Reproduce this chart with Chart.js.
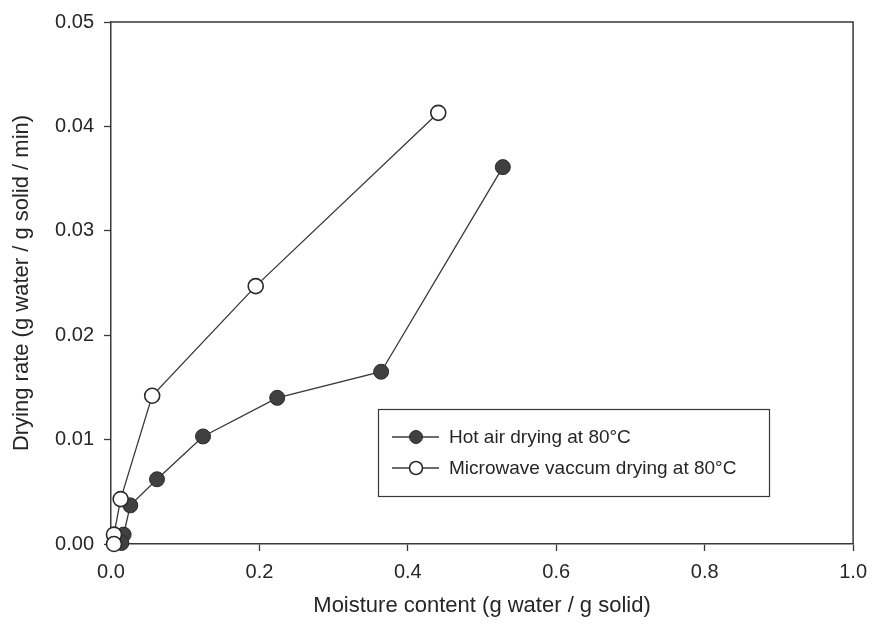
<!DOCTYPE html>
<html>
<head>
<meta charset="utf-8">
<script src="https://cdn.jsdelivr.net/npm/chart.js@4.4.1/dist/chart.umd.min.js"></script>
<style>
  html, body { margin: 0; padding: 0; background: #ffffff; }
  #wrap { width: 876px; height: 633px; position: relative; }
</style>
</head>
<body>
<div id="wrap"><canvas id="c" width="876" height="633"></canvas></div>
<script>
// ---- data ----
const hotAirX = [0.528, 0.364, 0.224, 0.124, 0.062, 0.026, 0.017, 0.014];
const hotAirY = [0.0361, 0.0165, 0.0140, 0.0103, 0.0062, 0.0037, 0.0009, 0.0001];
const microX  = [0.441, 0.195, 0.0555, 0.013, 0.004, 0.004];
const microY  = [0.0413, 0.0247, 0.0142, 0.0043, 0.0009, 0.0000];
const seriesLabels = ["Hot air drying at 80°C", "Microwave vaccum drying at 80°C"];
const xTickLabels = ["0.0", "0.2", "0.4", "0.6", "0.8", "1.0"];
const yTickLabels = ["0.00", "0.01", "0.02", "0.03", "0.04", "0.05"];
const xTitle = "Moisture content (g water / g solid)";
const yTitle = "Drying rate (g water / g solid / min)";

const FONT = "'Liberation Sans', Arial, sans-serif";
const TEXT = "#262626";
const LINE = "#383838";

function toPts(xs, ys) { return xs.map((x, i) => ({ x: x, y: ys[i] })); }

const framePlugin = {
  id: 'frame',
  afterDatasetsDraw(chart) {
    const { ctx, chartArea: a } = chart;
    ctx.save();
    ctx.strokeStyle = LINE;
    ctx.lineWidth = 1.5;
    ctx.beginPath();
    ctx.moveTo(a.left, a.top);
    ctx.lineTo(a.right, a.top);
    ctx.lineTo(a.right, a.bottom);
    ctx.stroke();
    ctx.restore();
  }
};

const legendPlugin = {
  id: 'boxLegend',
  afterDraw(chart) {
    const { ctx, chartArea: a } = chart;
    const left = a.left + 267, top = a.top + 387, w = 391, h = 87;
    ctx.save();
    ctx.strokeStyle = LINE;
    ctx.lineWidth = 1.2;
    ctx.strokeRect(left + 0.5, top + 0.5, w, h);
    const rows = [chart.data.datasets[0], chart.data.datasets[1]];
    rows.forEach((ds, i) => {
      const cy = top + 28 + i * 31;
      ctx.strokeStyle = ds.borderColor;
      ctx.lineWidth = ds.borderWidth;
      ctx.beginPath();
      ctx.moveTo(left + 14, cy);
      ctx.lineTo(left + 61, cy);
      ctx.stroke();
      ctx.beginPath();
      ctx.arc(left + 38, cy, 6.5, 0, Math.PI * 2);
      ctx.fillStyle = ds.pointBackgroundColor;
      ctx.fill();
      ctx.lineWidth = ds.pointBorderWidth;
      ctx.strokeStyle = ds.pointBorderColor;
      ctx.stroke();
      ctx.fillStyle = TEXT;
      ctx.font = "19px " + FONT;
      ctx.textBaseline = 'middle';
      ctx.textAlign = 'left';
      ctx.fillText(ds.label, left + 71, cy + 1);
    });
    ctx.restore();
  }
};

new Chart(document.getElementById('c'), {
  type: 'scatter',
  data: {
    datasets: [
      {
        label: seriesLabels[0],
        data: toPts(hotAirX, hotAirY),
        showLine: true,
        borderColor: LINE,
        borderWidth: 1.3,
        pointBackgroundColor: '#404040',
        pointBorderColor: '#2a2a2a',
        pointBorderWidth: 1,
        pointRadius: 7.5,
        pointHoverRadius: 7.5,
        clip: false,
        order: 1
      },
      {
        label: seriesLabels[1],
        data: toPts(microX, microY),
        showLine: true,
        borderColor: LINE,
        borderWidth: 1.3,
        pointBackgroundColor: '#ffffff',
        pointBorderColor: '#2a2a2a',
        pointBorderWidth: 1.6,
        pointRadius: 7.5,
        pointHoverRadius: 7.5,
        clip: false,
        order: 0
      }
    ]
  },
  options: {
    responsive: false,
    animation: false,
    events: [],
    layout: { padding: { top: 17, right: 21, left: 0, bottom: 0 } },
    plugins: { legend: { display: false }, tooltip: { enabled: false } },
    scales: {
      x: {
        type: 'linear',
        min: 0, max: 1,
        afterFit(s) { s.height = 89; },
        afterBuildTicks(s) { s.ticks = xTickLabels.map(t => ({ value: parseFloat(t) })); },
        ticks: {
          color: TEXT,
          font: { family: FONT, size: 20 },
          padding: 9,
          maxRotation: 0,
          callback: (v, i) => xTickLabels[i]
        },
        grid: { drawOnChartArea: false, drawTicks: true, tickLength: 7, color: LINE, tickWidth: 1.3 },
        border: { display: true, color: LINE, width: 1.5 },
        title: {
          display: true, text: xTitle, color: TEXT,
          font: { family: FONT, size: 22 },
          padding: { top: 0, bottom: 14 }
        }
      },
      y: {
        type: 'linear',
        min: 0, max: 0.05,
        afterFit(s) { s.width = 111; },
        afterBuildTicks(s) { s.ticks = yTickLabels.map(t => ({ value: parseFloat(t) })); },
        ticks: {
          color: TEXT,
          font: { family: FONT, size: 20 },
          padding: 10,
          callback: (v, i) => yTickLabels[i]
        },
        grid: { drawOnChartArea: false, drawTicks: true, tickLength: 7, color: LINE, tickWidth: 1.3 },
        border: { display: true, color: LINE, width: 1.5 },
        title: {
          display: true, text: yTitle, color: TEXT,
          font: { family: FONT, size: 22 },
          padding: { top: 9, bottom: 0 }
        }
      }
    }
  },
  plugins: [framePlugin, legendPlugin]
});
</script>
</body>
</html>
